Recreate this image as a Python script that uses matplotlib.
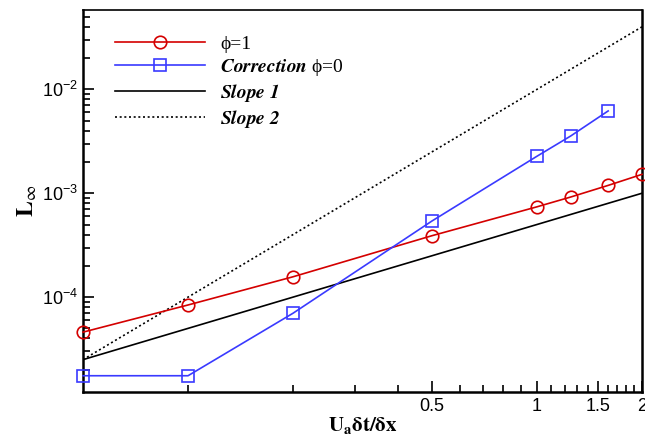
import numpy as np
import matplotlib
matplotlib.use('Agg')
import matplotlib.pyplot as plt
from matplotlib.ticker import FixedLocator, FixedFormatter, NullFormatter

plt.rcParams['font.family'] = ['Liberation Sans', 'DejaVu Sans']
plt.rcParams['mathtext.fontset'] = 'stix'

# data
x_phi1 = [0.05, 0.1, 0.2, 0.5, 1.0, 1.25, 1.6, 2.0]
err_phi1 = [4.6e-5, 8.4e-5, 1.57e-4, 3.9e-4, 7.4e-4, 9.2e-4, 1.19e-3, 1.52e-3]

x_corr = [0.05, 0.1, 0.2, 0.5, 1.0, 1.25, 1.6]
err_corr = [1.75e-5, 1.75e-5, 7.0e-5, 5.4e-4, 2.27e-3, 3.56e-3, 6.2e-3]

x_slope = [0.05, 2.0]
slope1 = [2.5e-5, 1.0e-3]
slope2 = [2.5e-5, 4.0e-2]

x_major = [0.5, 1.0, 1.5, 2.0]
x_major_labels = ['0.5', '1', '1.5', '2']
x_minor = [0.1, 0.2, 0.3, 0.4, 0.6, 0.7, 0.8, 0.9,
           1.1, 1.2, 1.3, 1.4, 1.6, 1.7, 1.8, 1.9]

fig = plt.figure(figsize=(6.45, 4.38), dpi=100)
ax = fig.add_axes([0.1287, 0.105, 0.8666, 0.872])

ax.plot(x_phi1, err_phi1, color='#d40000', lw=1.2, marker='o', ms=9,
        mfc='none', mec='#d40000', mew=1.2, clip_on=False, label='ϕ=1', zorder=4)
ax.plot(x_corr, err_corr, color='#3a3aff', lw=1.2, marker='s', ms=8.5,
        mfc='none', mec='#3a3aff', mew=1.2, clip_on=False,
        label=r'$\mathbfit{Correction}$ ϕ=0', zorder=4)
ax.plot(x_slope, slope1, color='black', lw=1.2, label=r'$\mathbfit{Slope\ 1}$')
ax.plot(x_slope, slope2, color='black', lw=1.2, ls=(0, (1.2, 1.6)),
        label=r'$\mathbfit{Slope\ 2}$')

ax.set_xscale('log')
ax.set_yscale('log')
ax.set_xlim(0.05, 2.0)
ax.set_ylim(1.22e-5, 0.058)

ax.xaxis.set_major_locator(FixedLocator(x_major))
ax.xaxis.set_major_formatter(FixedFormatter(x_major_labels))
ax.xaxis.set_minor_locator(FixedLocator(x_minor))
ax.xaxis.set_minor_formatter(NullFormatter())
ax.yaxis.set_minor_formatter(NullFormatter())

ax.tick_params(which='both', direction='in', top=False, right=False,
               labelsize=13, width=1.2)
ax.tick_params(which='major', length=8)
ax.tick_params(which='minor', length=5)
ax.tick_params(axis='x', pad=4)

for side in ['left', 'bottom', 'right']:
    ax.spines[side].set_linewidth(1.8)
ax.spines['top'].set_linewidth(1.2)

ax.set_xlabel(r'$\mathbf{U_a}\mathbf{\delta t/\delta x}$', fontsize=15, labelpad=0)
ax.set_ylabel(r'$\mathbf{L}_{\infty}$', fontsize=17, labelpad=2)

leg = ax.legend(loc='upper left', bbox_to_anchor=(0.058, 0.933), frameon=False,
                borderaxespad=0, borderpad=0, handlelength=4.6, handletextpad=0.8,
                labelspacing=0.2,
                prop={'family': ['Liberation Serif', 'DejaVu Serif'], 'size': 14})

fig.savefig('out.png', dpi=100)
